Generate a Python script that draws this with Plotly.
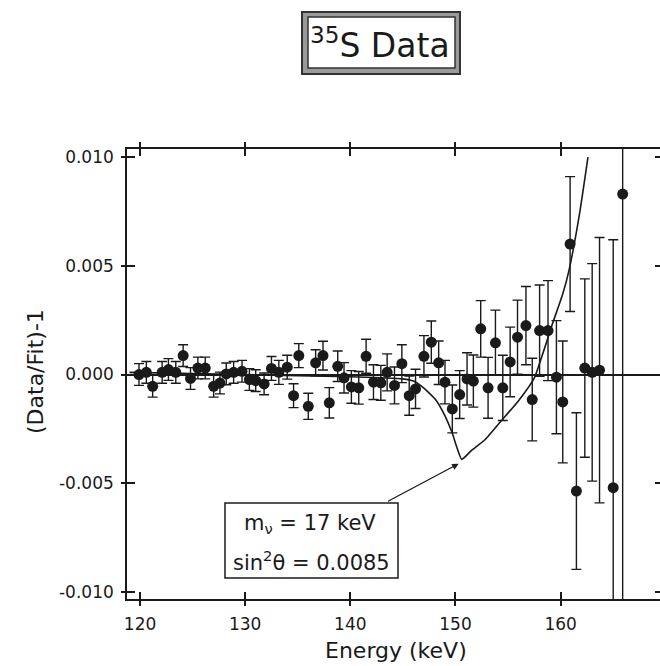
import plotly.graph_objects as go

# ---- data ----
energy = [119.9, 120.6, 121.2, 122.1, 122.7, 123.4, 124.1, 124.8, 125.5, 126.2,
          127.0, 127.6, 128.2, 128.9, 129.7, 130.4, 131.0, 131.8, 132.5, 133.2,
          134.0, 134.6, 135.1, 136.0, 136.7, 137.4, 138.0, 138.8, 139.4, 140.1,
          140.8, 141.5, 142.2, 142.9, 143.5, 144.2, 144.9, 145.6, 146.2, 147.0,
          147.7, 148.4, 149.0, 149.7, 150.4, 151.1, 151.7, 152.4, 153.1, 153.8,
          154.5, 155.2, 155.9, 156.7, 157.3, 158.0, 158.8, 159.6, 160.2, 160.9,
          161.5, 162.3, 163.0, 163.7, 165.0, 165.9]
ratio = [0.0000, 0.0001, -0.00054, 0.0001, 0.00023, 0.0001, 0.00087, -0.00018, 0.0003, 0.0003,
         -0.00054, -0.00039, 0.00003, 0.0001, 0.00015, -0.00023, -0.00028, -0.00043, 0.00028, 0.0001,
         0.00034, -0.00097, 0.00087, -0.00146, 0.00054, 0.00087, -0.0013, 0.00038, -0.00015, -0.00057,
         -0.00061, 0.00084, -0.00035, -0.00038, 0.0001, -0.0005, 0.0005, -0.00097, -0.00066, 0.00084,
         0.00149, 0.00054, -0.00035, -0.00158, -0.00092, -0.0002, -0.0003, 0.0021, -0.00061, 0.00146,
         -0.00061, 0.00058, 0.00172, 0.00225, -0.00115, 0.00202, 0.00202, -0.00012, -0.00126, 0.0060,
         -0.00536, 0.0003, 0.0001, 0.0002, -0.0052, 0.0083]
err = [0.0005, 0.0005, 0.0005, 0.0005, 0.0005, 0.0005, 0.0005, 0.0005, 0.0005, 0.0005,
       0.0005, 0.0005, 0.0005, 0.0005, 0.0005, 0.0005, 0.0005, 0.0005, 0.00055, 0.00055,
       0.00055, 0.00055, 0.00055, 0.0006, 0.0006, 0.00066, 0.0007, 0.0007, 0.0007, 0.00075,
       0.00075, 0.00078, 0.0008, 0.0008, 0.00085, 0.00085, 0.00087, 0.0009, 0.0009, 0.00095,
       0.00097, 0.001, 0.001, 0.0011, 0.0011, 0.0012, 0.0012, 0.0013, 0.0014, 0.0015,
       0.0015, 0.0016, 0.0017, 0.0018, 0.0019, 0.0021, 0.0023, 0.0026, 0.0028, 0.0031,
       0.0036, 0.0041, 0.0050, 0.0061, 0.0114, 0.0190]

fit_energy = [119.0, 125.0, 130.0, 135.0, 140.0, 143.0, 145.0, 146.0, 146.8, 148.1,
              149.0, 149.7, 150.1, 150.6, 151.5, 152.8, 154.4, 156.0, 157.5, 158.4,
              159.2, 160.2, 160.8, 161.8, 162.6]
fit_ratio = [0.0001, 0.00005, 0.0, -0.00005, -0.0001, -0.00015, -0.0002, -0.0003, -0.00054, -0.00115,
             -0.0019, -0.0027, -0.0033, -0.0039, -0.0035, -0.0030, -0.0021, -0.0012, -0.00015, 0.0011,
             0.0023, 0.0037, 0.0048, 0.0074, 0.0100]

x_ticks = [120, 130, 140, 150, 160]
x_tick_labels = ["120", "130", "140", "150", "160"]
y_ticks = [-0.010, -0.005, 0.000, 0.005, 0.010]
y_tick_labels = ["-0.010", "-0.005", "0.000", "0.005", "0.010"]

x_range = [118.76, 169.45]
y_range = [-0.01032, 0.01037]

FONT = "DejaVu Sans"
INK = "#1a1a1a"

fig = go.Figure()

fig.add_trace(go.Scatter(
    x=fit_energy, y=fit_ratio, mode="lines",
    line=dict(color=INK, width=1.6, shape="spline", smoothing=0.5),
    hoverinfo="skip", showlegend=False))

fig.add_trace(go.Scatter(
    x=energy, y=ratio, mode="markers",
    marker=dict(color=INK, size=11),
    error_y=dict(type="data", array=err, color=INK, thickness=1.4, width=5),
    showlegend=False))

# invisible traces that carry the overlay axes (extra tick marks)
fig.add_trace(go.Scatter(x=[], y=[], xaxis="x2", yaxis="y2", showlegend=False))
fig.add_trace(go.Scatter(x=[], y=[], xaxis="x2", yaxis="y3", showlegend=False))

axis_common = dict(showgrid=False, linecolor=INK, linewidth=1.6,
                   tickcolor=INK, tickwidth=1.5)

fig.update_layout(
    width=660, height=666,
    margin=dict(l=127, r=0, t=149, b=67),
    paper_bgcolor="white", plot_bgcolor="white",
    xaxis=dict(range=x_range, tickvals=x_ticks, ticktext=x_tick_labels,
               ticks="inside", ticklen=7, zeroline=False, showline=True,
               mirror="ticks",
               tickfont=dict(family=FONT, size=17, color=INK),
               ticklabelstandoff=9, **axis_common),
    yaxis=dict(range=y_range, tickvals=y_ticks, ticktext=y_tick_labels,
               ticks="inside", ticklen=8, zeroline=True, zerolinecolor=INK,
               zerolinewidth=1.6, showline=True, mirror=False,
               tickfont=dict(family=FONT, size=17, color=INK),
               ticklabelstandoff=8, **axis_common),
    xaxis2=dict(range=x_range, tickvals=x_ticks, overlaying="x", anchor="y2",
                ticks="outside", ticklen=6, showticklabels=False, zeroline=False,
                showline=False, mirror="ticks", **axis_common),
    yaxis2=dict(range=y_range, tickvals=y_ticks, overlaying="y", anchor="x2",
                ticks="outside", ticklen=5, showticklabels=False, zeroline=False,
                showline=False, mirror=False, **axis_common),
    yaxis3=dict(range=y_range, tickvals=y_ticks, overlaying="y", anchor="x2",
                side="right", ticks="inside", ticklen=5, showticklabels=False,
                zeroline=False, showline=False, mirror=False, **axis_common),
)

def px_x(p):
    return (p - 127) / 533

def px_y(p):
    return (599 - p) / 450

def label(text, xp, yp, size, angle=0):
    fig.add_annotation(xref="paper", yref="paper", x=px_x(xp), y=px_y(yp),
                       xanchor="center", yanchor="middle", text=text,
                       showarrow=False, textangle=angle,
                       font=dict(family=FONT, size=size, color=INK))

# title box (double border)
fig.add_shape(type="rect", xref="paper", yref="paper",
              x0=px_x(302), x1=px_x(460), y0=px_y(74), y1=px_y(12),
              line=dict(color="#333", width=2), fillcolor="#9a9a9a", layer="above")
fig.add_shape(type="rect", xref="paper", yref="paper",
              x0=px_x(308), x1=px_x(455), y0=px_y(68), y1=px_y(17),
              line=dict(color="#333", width=1.5), fillcolor="white", layer="above")
label("<sup>35</sup>S Data", 380, 43, 33)

# parameter box
fig.add_shape(type="rect", xref="paper", yref="paper",
              x0=px_x(225), x1=px_x(398), y0=px_y(578), y1=px_y(503),
              line=dict(color=INK, width=1.5), fillcolor="white", layer="above")
label("m<sub>ν</sub> = 17 keV", 310, 524, 21)
label("sin<sup>2</sup>θ = 0.0085", 311, 561, 21)

# arrow from box to the dip of the fit curve
fig.add_annotation(x=150.3, y=-0.0041, ax=143.44, ay=-0.00586,
                   xref="x", yref="y", axref="x", ayref="y",
                   text="", showarrow=True, arrowhead=2, arrowsize=1,
                   arrowwidth=1.3, arrowcolor=INK, standoff=0)

# axis titles
label("Energy (keV)", 396, 650, 22)
label("(Data/Fit)-1", 35, 372, 22, angle=-90)

fig.write_html("out.html")
